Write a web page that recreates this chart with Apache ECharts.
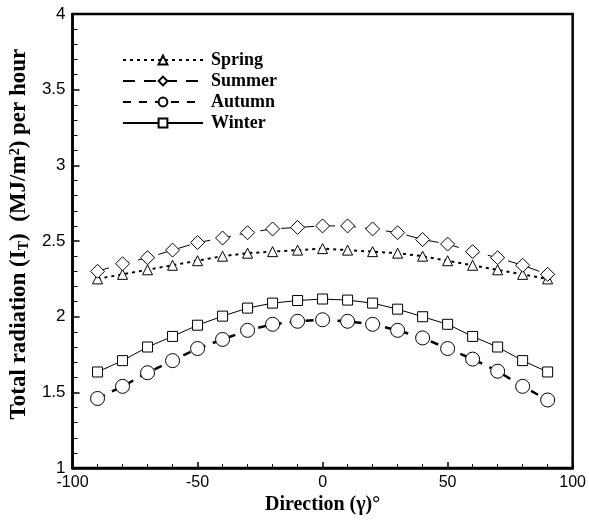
<!DOCTYPE html>
<html><head><meta charset="utf-8">
<script src="https://cdn.jsdelivr.net/npm/echarts@6/dist/echarts.min.js"></script>
<style>html,body{margin:0;padding:0;background:#fff}#c{width:589px;height:520px}</style>
</head><body><div id="c"></div>
<script>
const directions = [-90,-80,-70,-60,-50,-40,-30,-20,-10,0,10,20,30,40,50,60,70,80,90];
const spring = [2.25,2.28,2.31,2.34,2.37,2.40,2.42,2.43,2.44,2.45,2.44,2.43,2.42,2.40,2.37,2.34,2.31,2.28,2.25];
const summer = [2.30,2.35,2.39,2.44,2.49,2.52,2.555,2.58,2.59,2.60,2.60,2.58,2.555,2.51,2.48,2.43,2.39,2.34,2.28];
const autumn = [1.46,1.54,1.63,1.71,1.79,1.85,1.91,1.95,1.97,1.98,1.97,1.95,1.91,1.86,1.79,1.72,1.64,1.54,1.45];
const winter = [1.635,1.71,1.80,1.87,1.944,2.004,2.057,2.09,2.107,2.117,2.11,2.09,2.05,2.00,1.95,1.87,1.80,1.71,1.635];
const seriesNames = ['Spring','Summer','Autumn','Winter'];

const pairs = a => directions.map((d,i)=>[d,a[i]]);
const chart = echarts.init(document.getElementById('c'));
const mk = (name, data, symbol, size, lineStyle) => ({
  name, type:'line', data: pairs(data), symbol, symbolSize:size,
  lineStyle: Object.assign({color:'#000'}, lineStyle),
  itemStyle:{color:'#fff', borderColor:'#000', borderWidth:1},
  emphasis:{disabled:true}, z: 2
});
const serif = 'Liberation Serif';
chart.setOption({
  animation:false,
  grid:{left:70, right:16, top:14, bottom:48, show:true, borderColor:'#000', borderWidth:2.5},
  legend:{
    orient:'vertical', left:117, top:46, itemWidth:80, itemHeight:11, itemGap:3,
    data: seriesNames,
    textStyle:{fontFamily:serif, fontWeight:'bold', fontSize:18, color:'#000', padding:[0,0,0,3]}
  },
  xAxis:{
    type:'value', min:-100, max:100, interval:50,
    name:'Direction (γ)°', nameLocation:'middle', nameGap:23,
    nameTextStyle:{fontFamily:serif, fontWeight:'bold', fontSize:20, color:'#000'},
    axisLine:{onZero:false, lineStyle:{color:'#000', width:2.5}},
    axisTick:{inside:true, length:6, lineStyle:{color:'#000', width:1.5}},
    minorTick:{show:true, splitNumber:5, length:4, lineStyle:{color:'#000', width:1}},
    axisLabel:{fontFamily:'Liberation Sans', fontSize:16, color:'#000', margin:6},
    splitLine:{show:false}
  },
  yAxis:{
    type:'value', min:1, max:4, interval:0.5,
    name:'Total radiation (I{sub|T})  (MJ/m{sup|2}) per hour', nameLocation:'middle', nameGap:38,
    nameTextStyle:{fontFamily:serif, fontWeight:'bold', fontSize:23, color:'#000', padding:[0,0,0,14],
      rich:{sub:{fontFamily:serif, fontWeight:'bold', fontSize:14, verticalAlign:'bottom', padding:[9,0,0,0]},
            sup:{fontFamily:serif, fontWeight:'bold', fontSize:14, verticalAlign:'top', padding:[0,0,9,0]}}},
    axisLine:{onZero:false, lineStyle:{color:'#000', width:2.5}},
    axisTick:{inside:true, length:7, lineStyle:{color:'#000', width:1.5}},
    minorTick:{show:true, splitNumber:5, length:5, lineStyle:{color:'#000', width:1}},
    axisLabel:{fontFamily:'Liberation Sans', fontSize:17, color:'#000', margin:7},
    splitLine:{show:false}
  },
  series:[
    mk('Spring', spring, 'triangle', 10, {width:2, type:[3,4]}),
    mk('Summer', summer, 'diamond', 14, {width:1, type:[12,9]}),
    mk('Autumn', autumn, 'circle', 14, {width:2.5, type:[8,8]}),
    mk('Winter', winter, 'rect', 10, {width:1, type:'solid'})
  ]
});
</script></body></html>
